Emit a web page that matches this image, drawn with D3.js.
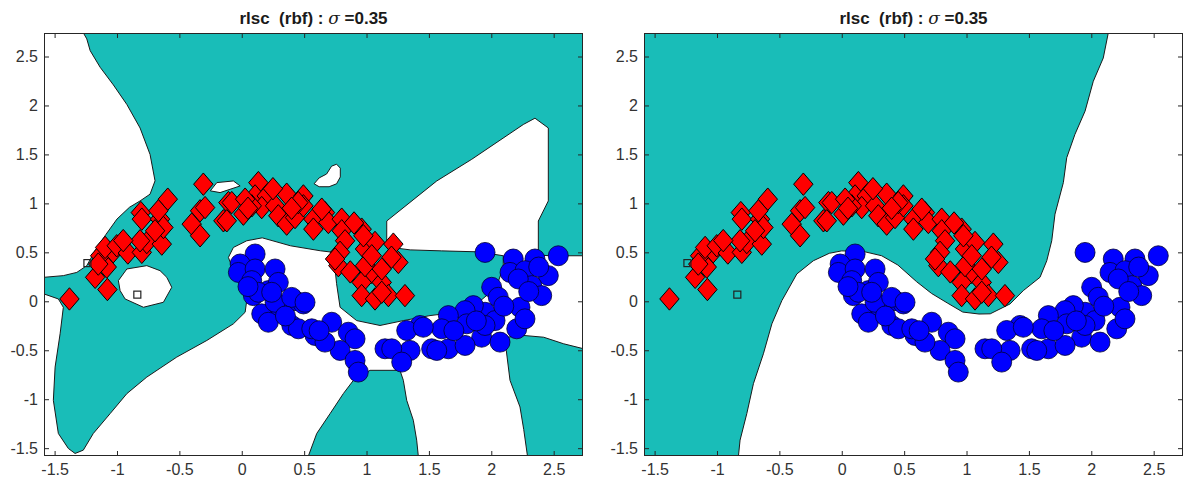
<!DOCTYPE html>
<html>
<head>
<meta charset="utf-8">
<script src="https://cdn.jsdelivr.net/npm/d3@7"></script>
<style>
  body { margin: 0; background: #fff; }
  svg text { font-family: "Liberation Sans", Arial, sans-serif; }
</style>
</head>
<body>
<div id="chart"></div>
<script>
// axis ticks (same for both panels)
var xTicks = [-1.5, -1, -0.5, 0, 0.5, 1, 1.5, 2, 2.5];
var yTicks = [-1.5, -1, -0.5, 0, 0.5, 1, 1.5, 2, 2.5];
var titleMain = "rlsc  (rbf) : ";
var titleSigma = "\u03c3";
var titleValue = " =0.35";

// upper moon (red diamonds)
var redPoints = [
  [-1.381,0.024],[-1.077,0.12],[-1.175,0.245],[-1.082,0.35],[-1.135,0.465],[-1.03,0.506],
  [-1.095,0.55],[-1.002,0.567],[-0.913,0.493],[-0.801,0.5],[-0.761,0.6],[-0.815,0.618],
  [-0.641,0.584],[-0.809,0.906],[-0.801,0.839],[-0.655,0.839],[-0.628,0.754],[-0.695,0.72],
  [-0.593,1.043],[-0.668,0.924],[-0.308,1.196],[-0.334,0.924],[-0.401,0.788],[-0.334,0.669],
  [-0.294,0.957],[-0.147,0.822],[-0.107,1.008],[-0.08,1.008],[-0.12,0.822],[0.013,0.89],
  [0.133,1.212],[0.107,1.076],[0.2,1.076],[0.16,0.957],[0.267,0.975],[0.36,1.094],
  [0.293,0.873],[0.36,0.788],[0.427,0.855],[0.494,1.076],[0.494,0.975],[0.574,0.839],
  [0.574,0.737],[0.667,0.906],[0.694,0.805],[0.801,0.839],[0.801,0.72],[0.828,0.618],
  [0.788,0.5],[0.774,0.364],[0.961,0.737],[0.988,0.534],[1.068,0.601],[1.215,0.584],
  [1.255,0.397],[1.042,0.295],[0.961,0.193],[1.122,0.193],[0.961,0.058],[1.068,0.024],
  [1.175,0.058],[1.308,0.058],[0.988,0.364],[1.122,0.33],[1.042,0.465],[1.122,0.092],
  [0.08,0.975],[0.027,1.043],[0.453,1.008],[0.641,0.941],[0.748,0.432],[0.975,0.669],
  [0.25,1.15],[0.05,0.95],[0.4,0.95],[0.9,0.8],[0.87,0.3],[1.2,0.45],[-0.95,0.62],[-1.15,0.38]
];

// lower moon (blue circles)
var bluePoints = [
  [0.107,0.483],[-0.013,0.381],[-0.027,0.295],[0.107,0.33],[0.267,0.33],[0.093,0.058],
  [0.213,0.109],[0.16,-0.128],[0.307,-0.061],[0.427,0.007],[0.494,-0.027],[0.401,-0.247],
  [0.213,-0.214],[0.454,-0.281],[0.587,-0.349],[0.721,-0.214],[0.854,-0.316],[0.908,-0.383],
  [0.788,-0.502],[0.908,-0.604],[0.934,-0.723],[0.667,-0.417],[1.148,-0.485],[0.08,0.211],
  [0.267,-0.01],[0.561,-0.281],[0.293,0.193],[1.95,0.499],[2.176,0.432],[2.35,0.432],
  [2.537,0.465],[2.15,0.295],[2.27,0.313],[2.457,0.262],[2.003,0.143],[2.324,0.16],
  [2.404,0.058],[2.056,0.041],[2.23,-0.061],[1.95,-0.112],[1.856,-0.044],[1.79,-0.095],
  [1.656,-0.146],[1.803,-0.23],[2.03,-0.197],[2.204,-0.281],[1.923,-0.367],[2.07,-0.417],
  [1.429,-0.247],[1.322,-0.298],[1.603,-0.281],[1.522,-0.485],[1.656,-0.485],[1.79,-0.451],
  [1.349,-0.502],[1.202,-0.485],[1.282,-0.621],[1.95,-0.247],[2.216,0.228],[2.27,-0.179],
  [0.133,0.092],[0.24,0.092],[0.4,0.04],[0.507,-0.01],[1.455,-0.265],[1.563,-0.502],
  [0.35,-0.15],[0.62,-0.3],[0.05,0.15],[2.38,0.35],[2.3,0.1],[2.1,-0.05],[1.7,-0.3],[1.88,-0.2]
];

// labeled points (small squares)
var labeledPoints = [[-1.237,0.39],[-0.837,0.068]];

// left panel: white (negative) regions, drawn over teal
var leftWhiteTopLeft = [
  [-1.7,2.8],[-1.269,2.8],[-1.269,2.74],[-1.242,2.68],[-1.215,2.56],[-1.135,2.39],[-1.029,2.21],
  [-0.921,2.01],[-0.815,1.77],[-0.735,1.5],[-0.695,1.23],[-0.735,1.094],[-0.815,1.025],[-0.9,0.96],
  [-1.0,0.84],[-1.09,0.68],[-1.17,0.53],[-1.242,0.364],[-1.322,0.295],[-1.43,0.262],[-1.585,0.245],[-1.7,0.245]
];
var leftWhiteMain = [
  [-1.7,0.075],[-1.585,0.075],[-1.47,0.024],[-1.43,-0.061],[-1.456,-0.332],[-1.496,-0.672],[-1.51,-1.011],
  [-1.47,-1.35],[-1.39,-1.503],[-1.336,-1.554],[-1.27,-1.52],[-1.19,-1.35],[-1.055,-1.147],[-0.921,-0.943],
  [-0.761,-0.774],[-0.521,-0.57],[-0.28,-0.4],[-0.067,-0.23],[0.027,-0.112],[0.04,0.007],[-0.013,0.177],
  [-0.067,0.313],[-0.107,0.448],[-0.067,0.55],[0.04,0.618],[0.164,0.648],[0.39,0.567],[0.63,0.516],
  [0.734,0.5],[0.76,0.18],[0.788,-0.061],[0.921,-0.197],[1.108,-0.247],[1.295,-0.197],[1.509,-0.146],
  [1.723,-0.112],[1.883,-0.027],[2.04,0.143],[2.096,0.346],[2.096,0.465],[1.9,0.505],[1.6,0.515],
  [1.35,0.525],[1.2,0.55],[1.162,0.6],[1.162,0.82],[1.563,1.229],[1.843,1.45],[2.257,1.806],[2.35,1.87],
  [2.457,1.77],[2.457,1.025],[2.377,0.82],[2.377,0.47],[2.5,0.465],[2.8,0.465],[2.8,-1.7],[-1.7,-1.7]
];
var leftWhiteIsland1 = [[-0.252,1.128],[-0.2,1.212],[-0.067,1.229],[-0.013,1.178],[-0.174,1.11]];
var leftWhiteIsland2 = [
  [0.58,1.2],[0.62,1.26],[0.68,1.3],[0.72,1.38],[0.76,1.4],[0.79,1.36],[0.79,1.27],[0.76,1.2],[0.7,1.17],[0.62,1.17]
];
var leftWhiteIsland3 = [
  [-0.989,0.211],[-0.921,0.33],[-0.761,0.364],[-0.655,0.313],[-0.601,0.245],[-0.561,0.143],
  [-0.628,-0.01],[-0.788,-0.061],[-0.935,0.024],[-0.975,0.109]
];
// left panel: teal blobs sitting inside the big white area
var leftTealBottomMid = [
  [0.534,-1.7],[0.534,-1.58],[0.601,-1.35],[0.708,-1.147],[0.814,-0.943],[0.895,-0.807],[1.028,-0.705],
  [1.268,-0.705],[1.295,-0.807],[1.322,-1.011],[1.375,-1.215],[1.402,-1.418],[1.415,-1.58],[1.415,-1.7]
];
var leftTealBottomRight = [
  [2.123,-0.367],[2.26,-0.349],[2.42,-0.367],[2.58,-0.434],[2.74,-0.485],[2.8,-0.49],[2.8,-1.7],
  [2.29,-1.7],[2.29,-1.58],[2.26,-1.31],[2.23,-1.079],[2.15,-0.807],[2.12,-0.502]
];

// right panel: one white region
var rightWhite = [
  [-0.828,-1.7],[-0.828,-1.58],[-0.815,-1.418],[-0.761,-1.147],[-0.708,-0.841],[-0.628,-0.536],[-0.56,-0.23],
  [-0.48,0.007],[-0.36,0.279],[-0.228,0.414],[-0.1,0.49],[0.0,0.515],[0.187,0.505],[0.32,0.465],[0.45,0.37],
  [0.6,0.2],[0.72,0.08],[0.85,-0.02],[0.97,-0.11],[1.1,-0.13],[1.19,-0.128],[1.349,-0.027],[1.455,0.109],
  [1.589,0.245],[1.643,0.414],[1.683,0.618],[1.709,0.89],[1.776,1.212],[1.803,1.466],[1.869,1.705],
  [1.95,1.942],[2.016,2.247],[2.096,2.485],[2.136,2.74],[2.136,2.8],[2.8,2.8],[2.8,-1.7]
];

var teal = "#19bdb8";

var svg = d3.select("#chart").append("svg")
  .attr("width", 1189)
  .attr("height", 484);

function drawPanel(left, id, whiteRegions, tealRegions) {
  var top = 33, bottom = 456, right = left + 539;

  var x = d3.scaleLinear().domain([-1.585, 2.735]).range([left, right]);
  var y = d3.scaleLinear().domain([-1.58, 2.74]).range([bottom, top]);

  svg.append("clipPath").attr("id", id)
    .append("rect")
    .attr("x", left).attr("y", top)
    .attr("width", right - left).attr("height", bottom - top);

  var g = svg.append("g").attr("clip-path", "url(#" + id + ")");

  g.append("rect")
    .attr("x", left).attr("y", top)
    .attr("width", right - left).attr("height", bottom - top)
    .attr("fill", teal);

  var line = d3.line().x(d => x(d[0])).y(d => y(d[1]));

  g.selectAll("path.white")
    .data(whiteRegions)
    .enter().append("path")
    .attr("class", "white")
    .attr("d", d => line(d) + "Z")
    .attr("fill", "#fff")
    .attr("stroke", "#1a1a1a")
    .attr("stroke-width", 1);

  g.selectAll("path.teal")
    .data(tealRegions)
    .enter().append("path")
    .attr("class", "teal")
    .attr("d", d => line(d) + "Z")
    .attr("fill", teal)
    .attr("stroke", "#1a1a1a")
    .attr("stroke-width", 1);

  // red diamonds
  g.selectAll("path.red")
    .data(redPoints)
    .enter().append("path")
    .attr("class", "red")
    .attr("d", "M0,-11.2L9.7,0L0,11.2L-9.7,0Z")
    .attr("transform", d => "translate(" + x(d[0]) + "," + y(d[1]) + ")")
    .attr("fill", "#ff0000")
    .attr("stroke", "#000")
    .attr("stroke-width", 1);

  // blue circles
  g.selectAll("circle.blue")
    .data(bluePoints)
    .enter().append("circle")
    .attr("class", "blue")
    .attr("cx", d => x(d[0]))
    .attr("cy", d => y(d[1]))
    .attr("r", 10)
    .attr("fill", "#0000ff")
    .attr("stroke", "#000033")
    .attr("stroke-width", 0.8);

  // labeled squares
  g.selectAll("rect.lab")
    .data(labeledPoints)
    .enter().append("rect")
    .attr("class", "lab")
    .attr("x", d => x(d[0]) - 3.5)
    .attr("y", d => y(d[1]) - 3.5)
    .attr("width", 7).attr("height", 7)
    .attr("fill", "none")
    .attr("stroke", "#222")
    .attr("stroke-width", 1.2);

  // axes, ticks pointing inward
  var fmt = d => String(d);
  var axB = svg.append("g").attr("transform", "translate(0," + bottom + ")")
    .call(d3.axisBottom(x).tickValues(xTicks).tickFormat(fmt).tickSize(-5).tickPadding(8));
  var axL = svg.append("g").attr("transform", "translate(" + left + ",0)")
    .call(d3.axisLeft(y).tickValues(yTicks).tickFormat(fmt).tickSize(-5).tickPadding(6));
  var axT = svg.append("g").attr("transform", "translate(0," + top + ")")
    .call(d3.axisTop(x).tickValues(xTicks).tickFormat("").tickSize(-5));
  var axR = svg.append("g").attr("transform", "translate(" + right + ",0)")
    .call(d3.axisRight(y).tickValues(yTicks).tickFormat("").tickSize(-5));

  [axB, axL, axT, axR].forEach(function(a) {
    a.select(".domain").remove();
    a.selectAll("line").attr("stroke", "#262626");
    a.selectAll("text")
      .style("font-size", "16px")
      .attr("fill", "#333");
  });

  svg.append("rect")
    .attr("x", left + 0.5).attr("y", top + 0.5)
    .attr("width", right - left - 1).attr("height", bottom - top - 1)
    .attr("fill", "none")
    .attr("stroke", "#262626")
    .attr("stroke-width", 1);

  var t = svg.append("text")
    .attr("x", (left + right) / 2)
    .attr("y", 24)
    .attr("text-anchor", "middle")
    .style("white-space", "pre")
    .style("font-size", "17px")
    .style("font-weight", "bold")
    .attr("fill", "#1a1a1a");
  t.append("tspan").text(titleMain);
  t.append("tspan").style("font-style", "italic").style("font-weight", "normal")
    .style("font-family", "'DejaVu Serif', serif").text(titleSigma);
  t.append("tspan").text(titleValue);
}

drawPanel(44, "clipL",
  [leftWhiteTopLeft, leftWhiteMain, leftWhiteIsland1, leftWhiteIsland2, leftWhiteIsland3],
  [leftTealBottomMid, leftTealBottomRight]);
drawPanel(644, "clipR", [rightWhite], []);
</script>
</body>
</html>
